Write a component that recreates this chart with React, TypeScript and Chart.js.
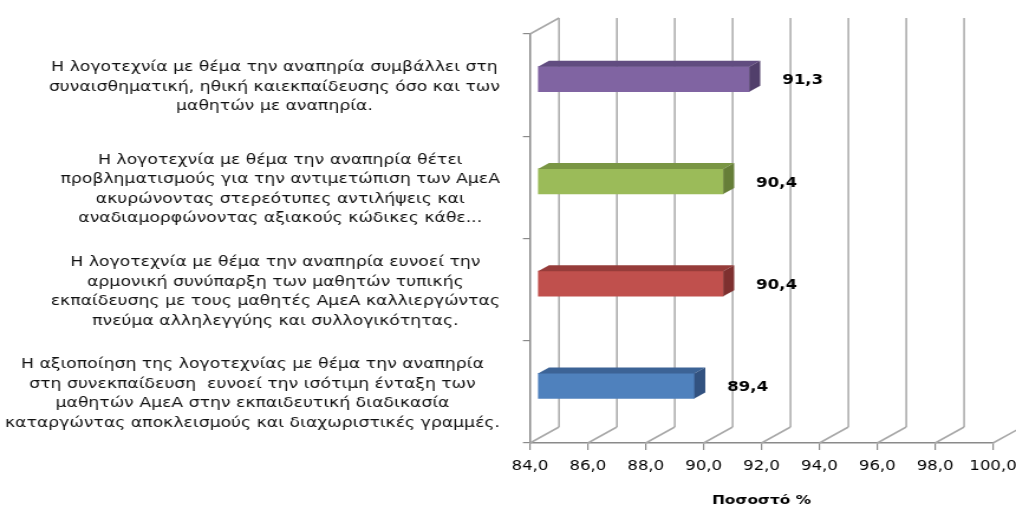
import React, { useEffect, useRef } from 'react';
import { Chart, registerables } from 'chart.js';

Chart.register(...registerables);

// ---- data ----
const categories: string[][] = [
  [
    'Η λογοτεχνία με θέμα την αναπηρία συμβάλλει στη',
    'συναισθηματική, ηθική καιεκπαίδευσης όσο και των',
    'μαθητών με αναπηρία.',
  ],
  [
    'Η λογοτεχνία με θέμα την αναπηρία θέτει',
    'προβληματισμούς για την αντιμετώπιση των ΑμεΑ',
    'ακυρώνοντας στερεότυπες αντιλήψεις και',
    'αναδιαμορφώνοντας αξιακούς κώδικες κάθε...',
  ],
  [
    'Η λογοτεχνία με θέμα την αναπηρία ευνοεί την',
    'αρμονική συνύπαρξη των μαθητών τυπικής',
    'εκπαίδευσης με τους μαθητές ΑμεΑ καλλιεργώντας',
    'πνεύμα αλληλεγγύης και συλλογικότητας.',
  ],
  [
    'Η αξιοποίηση της λογοτεχνίας με θέμα την αναπηρία',
    'στη συνεκπαίδευση  ευνοεί την ισότιμη ένταξη των',
    'μαθητών ΑμεΑ στην εκπαιδευτική διαδικασία',
    'καταργώντας αποκλεισμούς και διαχωριστικές γραμμές.',
  ],
];
const values: number[] = [91.3, 90.4, 90.4, 89.4];
const xMin = 84;
const xMax = 100;
const xStep = 2;
const axisTitle = 'Ποσοστό %';

// ---- styles ----
const frontColors = ['#8064A2', '#9BBB59', '#C0504D', '#4F81BD'];
const topColors = ['#614C80', '#7A9644', '#963C3A', '#3C6396'];
const sideColors = ['#513F6B', '#667E38', '#7E302F', '#325280'];

const CANVAS_W = 860;
const CANVAS_H = 509;
const PAGE_W = 1016;
const SX = PAGE_W / CANVAS_W;
const FONT = '"DejaVu Sans", Verdana, sans-serif';

const WALL_DX = 29 / SX;
const WALL_DY = -16;
const BAR_DX = 8 / SX;
const BAR_DY = -6;
const DEPTH_DX = 11 / SX;
const DEPTH_DY = -6;
const LABEL_GAP = 33 / SX;
const CAT_RIGHT_GAP = 30 / SX;
const GRID_COLOR = '#A8A8A8';

const threeD = {
  id: 'threeD',
  beforeDatasetsDraw(chart: any) {
    const { ctx, chartArea: a } = chart;
    const xs = chart.scales.x;
    ctx.save();
    ctx.strokeStyle = GRID_COLOR;
    ctx.lineWidth = 1.5;
    const line = (x1: number, y1: number, x2: number, y2: number) => {
      ctx.beginPath();
      ctx.moveTo(x1, y1);
      ctx.lineTo(x2, y2);
      ctx.stroke();
    };
    line(a.left, a.top, a.left + WALL_DX, a.top + WALL_DY);
    xs.ticks.forEach((t: any) => {
      const px = xs.getPixelForValue(t.value);
      line(px, a.bottom, px + WALL_DX, a.bottom + WALL_DY);
      line(px + WALL_DX, a.bottom + WALL_DY, px + WALL_DX, a.top + WALL_DY);
    });
    ctx.restore();
    ctx.save();
    ctx.translate(BAR_DX, BAR_DY);
  },
  afterDatasetsDraw(chart: any) {
    const { ctx } = chart;
    ctx.restore();
    const xs = chart.scales.x;
    const meta = chart.getDatasetMeta(0);
    const ds = chart.data.datasets[0];
    const minPx = xs.getPixelForValue(xs.min);
    meta.data.forEach((bar: any, i: number) => {
      const p = bar.getProps(['x', 'y', 'base', 'height'], true);
      const x0 = Math.max(p.base, minPx) + BAR_DX;
      const x1 = p.x + BAR_DX;
      const top = p.y - p.height / 2 + BAR_DY;
      const bot = p.y + p.height / 2 + BAR_DY;
      ctx.save();
      ctx.fillStyle = topColors[i % topColors.length];
      ctx.beginPath();
      ctx.moveTo(x0, top);
      ctx.lineTo(x1, top);
      ctx.lineTo(x1 + DEPTH_DX, top + DEPTH_DY);
      ctx.lineTo(x0 + DEPTH_DX, top + DEPTH_DY);
      ctx.closePath();
      ctx.fill();
      ctx.fillStyle = sideColors[i % sideColors.length];
      ctx.beginPath();
      ctx.moveTo(x1, top);
      ctx.lineTo(x1 + DEPTH_DX, top + DEPTH_DY);
      ctx.lineTo(x1 + DEPTH_DX, bot + DEPTH_DY);
      ctx.lineTo(x1, bot);
      ctx.closePath();
      ctx.fill();
      ctx.fillStyle = '#000';
      ctx.font = `bold 14px ${FONT}`;
      ctx.textAlign = 'left';
      ctx.textBaseline = 'middle';
      const v = ds.data[i] as number;
      ctx.fillText(v.toFixed(1).replace('.', ','), x1 + LABEL_GAP, p.y + BAR_DY + 1.5);
      ctx.restore();
    });
  },
  afterDraw(chart: any) {
    const { ctx, chartArea: a } = chart;
    const ys = chart.scales.y;
    ctx.save();
    ctx.font = `14.6px ${FONT}`;
    ctx.fillStyle = '#111';
    ctx.textAlign = 'center';
    ctx.textBaseline = 'middle';
    const lh = 19.5;
    const right = a.left - CAT_RIGHT_GAP;
    (chart.data.labels as string[][]).forEach((lines, i) => {
      const cy = ys.getPixelForValue(i) + 2;
      const widest = Math.max(...lines.map((l) => ctx.measureText(l).width));
      const cx = right - widest / 2;
      const y0 = cy - ((lines.length - 1) * lh) / 2;
      lines.forEach((l, k) => ctx.fillText(l, cx, y0 + k * lh));
    });
    ctx.restore();
  },
};

export default function App() {
  const ref = useRef<HTMLCanvasElement>(null);
  useEffect(() => {
    const canvas = ref.current;
    if (!canvas) return;
    const chart = new Chart(canvas, {
      type: 'bar',
      data: {
        labels: categories as any,
        datasets: [
          {
            data: values,
            backgroundColor: frontColors,
            borderWidth: 0,
            barThickness: 25,
          },
        ],
      },
      options: {
        indexAxis: 'y',
        responsive: false,
        devicePixelRatio: 1,
        animation: false,
        layout: { padding: { left: 0, right: 23 / SX, top: 34, bottom: 0 } },
        plugins: { legend: { display: false }, tooltip: { enabled: false } },
        scales: {
          x: {
            min: xMin,
            max: xMax,
            ticks: {
              stepSize: xStep,
              color: '#000',
              font: { family: FONT, size: 14 },
              padding: 8,
              callback: (v: any) => Number(v).toFixed(1).replace('.', ','),
            },
            grid: {
              drawOnChartArea: false,
              tickLength: 7,
              color: '#8A8A8A',
              lineWidth: 1.2,
            },
            border: { display: true, color: '#8A8A8A', width: 1.5 },
            title: {
              display: true,
              text: axisTitle,
              color: '#000',
              font: { family: FONT, size: 13, weight: 'bold' },
              padding: { top: 0, bottom: 1 },
            },
            afterFit: (s: any) => {
              s.height = 66;
              s.paddingLeft = 0;
              s.paddingRight = 0;
            },
          },
          y: {
            ticks: { display: false },
            grid: {
              drawOnChartArea: false,
              tickLength: 6,
              color: '#8A8A8A',
              lineWidth: 1.2,
              offset: true,
            },
            border: { display: true, color: '#8A8A8A', width: 1.5 },
            afterFit: (s: any) => {
              s.width = 530 / SX;
              s.paddingTop = 0;
              s.paddingBottom = 0;
            },
          },
        },
      },
      plugins: [threeD],
    });
    return () => chart.destroy();
  }, []);
  return (
    <div style={{ position: 'fixed', left: 0, top: 0, width: PAGE_W, height: CANVAS_H, background: '#fff' }}>
      <canvas
        ref={ref}
        width={CANVAS_W}
        height={CANVAS_H}
        style={{ width: PAGE_W + 'px', height: CANVAS_H + 'px', display: 'block' }}
      />
    </div>
  );
}
